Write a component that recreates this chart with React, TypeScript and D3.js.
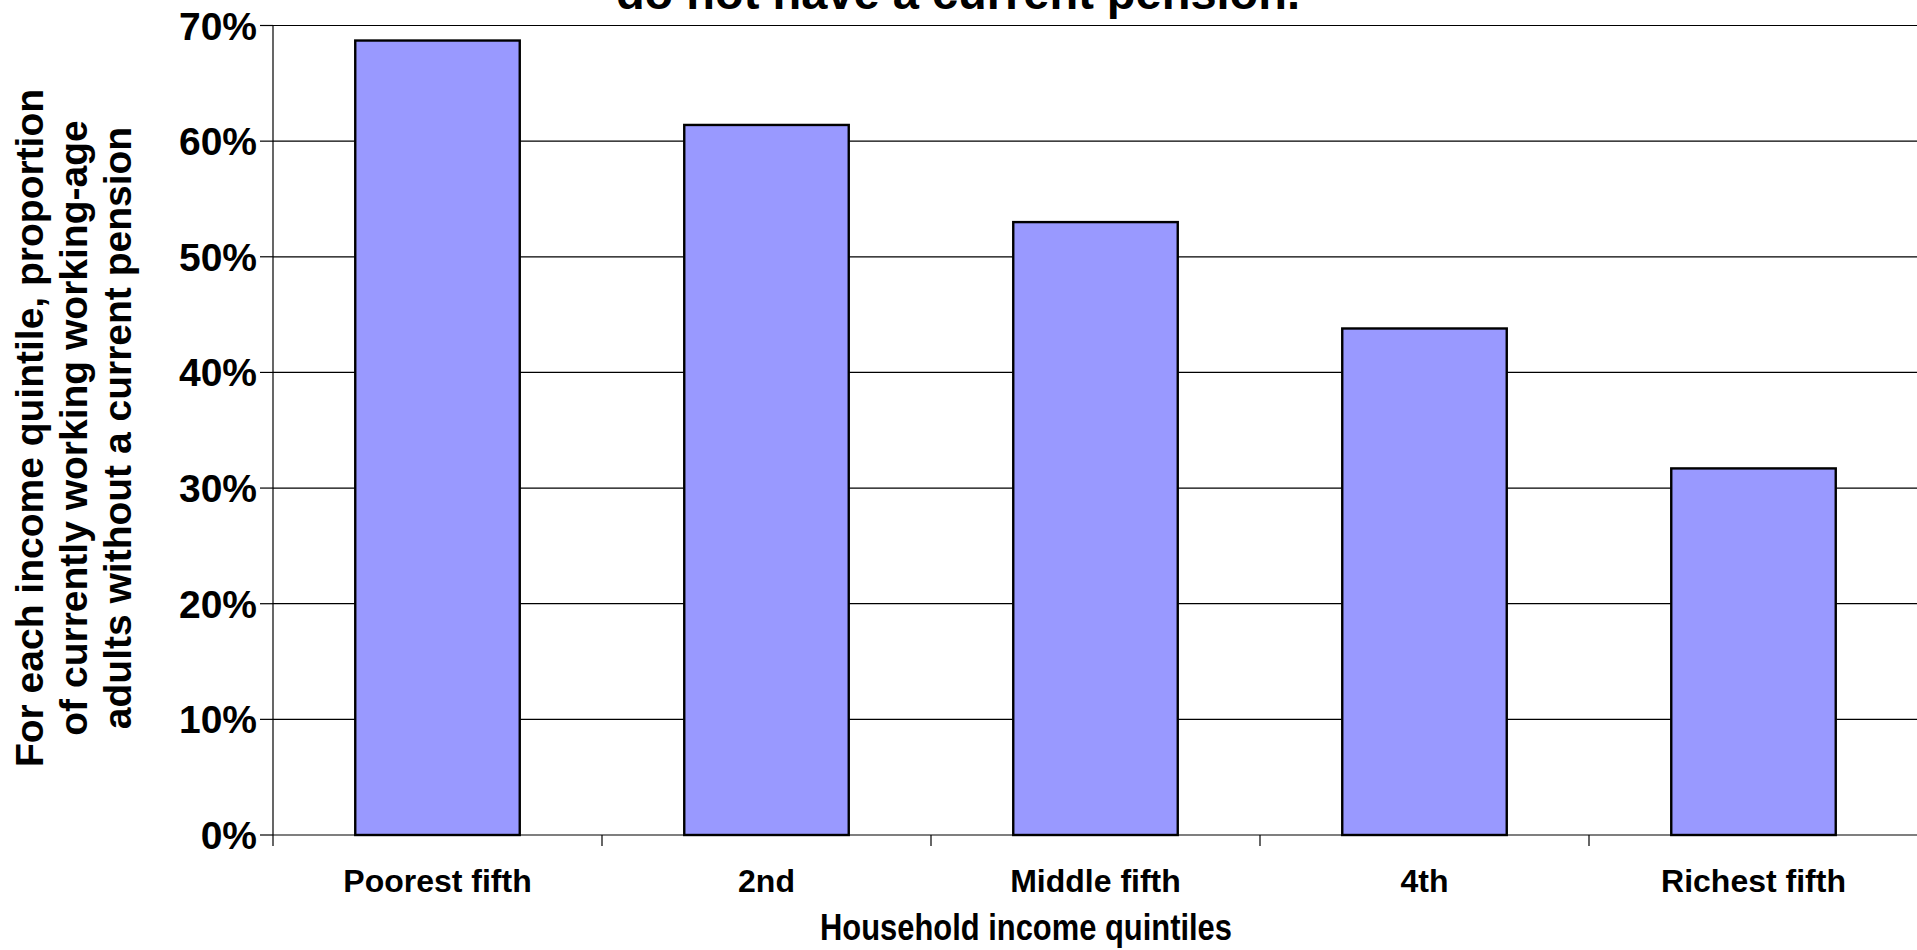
import React from "react";
import * as d3 from "d3";

const categories = ["Poorest fifth", "2nd", "Middle fifth", "4th", "Richest fifth"];
const values = [0.687, 0.614, 0.530, 0.438, 0.317];
const yTicks = [0, 0.1, 0.2, 0.3, 0.4, 0.5, 0.6, 0.7];
const titleText = "do not have a current pension.";
const xTitle = "Household income quintiles";
const yTitleLines = [
  "For each income quintile, proportion",
  "of currently working working-age",
  "adults without a current pension",
];

const W = 1917;
const H = 950;
const FONT = "'Liberation Sans', Arial, Helvetica, sans-serif";

export default function App() {
  const left = 273;
  const right = 1918;
  const top = 25.5;
  const bottom = 835;

  const x = d3
    .scaleBand<string>()
    .domain(categories)
    .range([left, right])
    .paddingInner(0.5)
    .paddingOuter(0.25);
  const y = d3.scaleLinear().domain([0, 0.7]).range([bottom, top]);
  const step = x.step();
  const fmt = d3.format(".0%");

  return (
    <svg
      width={W}
      height={H}
      style={{ position: "absolute", left: 0, top: 0, background: "#fff" }}
      fontFamily={FONT}
    >
      <rect x={0} y={0} width={W} height={H} fill="#fff" />
      {/* gridlines */}
      {yTicks.slice(1).map((t) => (
        <line key={"g" + t} x1={left} x2={right} y1={y(t)} y2={y(t)} stroke="#000" strokeWidth={1.2} />
      ))}
      {/* bars */}
      {categories.map((c, i) => (
        <rect
          key={c}
          x={x(c)}
          y={y(values[i])}
          width={x.bandwidth()}
          height={bottom - y(values[i])}
          fill="#9999FF"
          stroke="#000"
          strokeWidth={2.4}
        />
      ))}
      {/* y axis */}
      <line x1={left} x2={left} y1={top} y2={bottom} stroke="#000" strokeWidth={1.2} />
      {yTicks.map((t) => (
        <g key={"t" + t}>
          <line x1={left - 13} x2={left} y1={y(t)} y2={y(t)} stroke="#000" strokeWidth={1.2} />
          <text
            x={257}
            y={y(t)}
            dy="0.36em"
            textAnchor="end"
            fontSize={39}
            fontWeight="bold"
            fill="#000"
          >
            {fmt(t)}
          </text>
        </g>
      ))}
      {/* x axis */}
      <line x1={left} x2={right} y1={bottom} y2={bottom} stroke="#000" strokeWidth={1.2} />
      {d3.range(categories.length + 1).map((i) => (
        <line
          key={"xt" + i}
          x1={left + i * step}
          x2={left + i * step}
          y1={bottom}
          y2={bottom + 11}
          stroke="#000"
          strokeWidth={1.2}
        />
      ))}
      {categories.map((c) => (
        <text
          key={"xl" + c}
          x={(x(c) as number) + x.bandwidth() / 2}
          y={892}
          textAnchor="middle"
          fontSize={32}
          fontWeight="bold"
          fill="#000"
        >
          {c}
        </text>
      ))}
      {/* x title */}
      <text
        x={1026}
        y={940}
        textAnchor="middle"
        fontSize={37}
        fontWeight="bold"
        fill="#000"
        textLength={412}
        lengthAdjust="spacingAndGlyphs"
      >
        {xTitle}
      </text>
      {/* y title */}
      <g transform="translate(0,428) rotate(-90)">
        {yTitleLines.map((l, i) => (
          <text
            key={l}
            x={0}
            y={43 + i * 44}
            textAnchor="middle"
            fontSize={39}
            fontWeight="bold"
            fill="#000"
          >
            {l}
          </text>
        ))}
      </g>
      {/* chart title (clipped at top) */}
      <text x={958} y={9} textAnchor="middle" fontSize={47} fontWeight="bold" fill="#000">
        {titleText}
      </text>
    </svg>
  );
}
